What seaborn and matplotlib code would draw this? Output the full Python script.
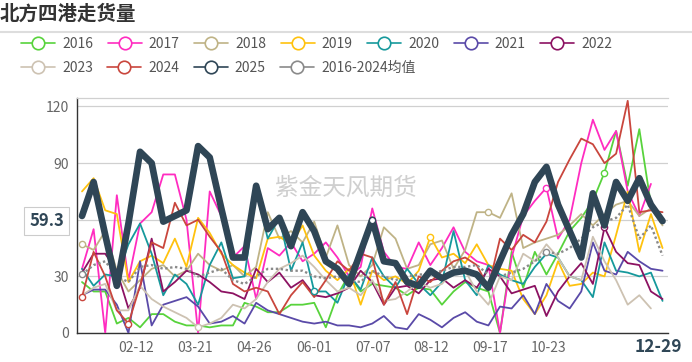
import numpy as np
import pandas as pd
import seaborn as sns
import matplotlib.pyplot as plt
import matplotlib.transforms as mtransforms
from matplotlib.lines import Line2D

# weekly values, index 0 .. 50 (last point = 12-29)
v2016 = [27, 22, 22, 5, 8, 3, 10, 10, 6, 4,
         4, 3, 4, 4, 16, 14, 11, 11, 15, 15,
         16, 3, 20, 31, 22, 26, 25, 24, 20, 24,
         23, 15, 22, 27, 24, 22, 0, 43, 24, 43,
         31, 42, 54, 61, 70, 85, 107, 78, 108, 68,
         None]
v2017 = [34, 55, 0, 73, 28, 58, 64, 84, 84, 60,
         0, 75, 62, 40, 46, 18, 45, 41, 48, 38,
         42, 48, 40, 30, 35, 66, 43, 35, 34, 48,
         36, 45, 56, 43, 38, 36, 0, 40, 62, 70,
         77, 50, 60, 90, 113, 97, 107, 75, 62, 79,
         None]
v2018 = [47, 44, 54, 33, 22, 28, 34, 36, 30, 33,
         42, 36, 33, 36, 30, 35, 64, 50, 54, 48,
         59, 40, 57, 36, 30, 36, 56, 50, 34, 36,
         47, 49, 34, 44, 64, 64, 61, 74, 45, 48,
         50, 52, 57, 63, 57, 63, 68, 70, 62, 66,
         57]
v2019 = [75, 82, 65, 63, 27, 38, 41, 37, 50, 35,
         61, 53, 42, 36, 32, 29, 50, 51, 47, 57,
         41, 33, 28, 34, 15, 33, 28, 30, 26, 33,
         51, 40, 42, 37, 47, 36, 34, 33, 18, 10,
         20, 38, 25, 26, 32, 30, 52, 75, 43, 63,
         45]
v2020 = [34, 25, 31, 30, 47, 58, 42, 20, 31, 26,
         15, 36, 48, 29, 30, 75, 50, 61, 33, 48,
         22, 22, 16, 31, 23, 40, 30, 24, 34, 26,
         20, 27, 54, 28, 20, 36, 31, 28, 26, 35,
         42, 40, 30, 28, 19, 48, 33, 32, 30, 32,
         17]
v2021 = [20, 23, 23, 15, 0, 38, 4, 15, 17, 19,
         14, 5, 6, 9, 5, 16, 12, 10, 8, 6,
         5, 6, 4, 4, 3, 5, 9, 3, 2, 10,
         7, 3, 8, 11, 6, 4, 14, 13, 20, 10,
         26, 17, 13, 22, 48, 33, 31, 43, 38, 34,
         33]
v2022 = [32, 42, 42, 33, 13, 24, 50, 22, 27, 33,
         31, 27, 22, 21, 18, 34, 27, 32, 24, 28,
         20, 19, 21, 24, 33, 27, 15, 24, 25, 21,
         28, 29, 24, 28, 24, 34, 30, 21, 23, 25,
         9, 22, 30, 37, 26, 56, 43, 37, 36, 22,
         18]
v2023 = [20, 24, 26, 12, 12, 25, 18, 14, 11, 8,
         3, 5, 8, 15, 13, 18, 27, 34, 37, 41,
         35, 28, 22, 24, 20, 28, 17, 18, 22, 27,
         24, 26, 33, 33, 22, 15, 30, 28, 42, 38,
         47, 40, 30, 28, 51, 38, 28, 15, 20, 13,
         None]
v2024 = [19, 43, 30, 12, 5, 25, 48, 45, 69, 57,
         60, 51, 43, 26, 22, 24, 22, 10, 20, 27,
         19, 28, 38, 33, 42, 40, 15, 27, 10, 30,
         27, 33, 38, 40, 36, 24, 50, 44, 52, 48,
         59, 80, 92, 103, 100, 90, 95, 123, 64, 65,
         64]
v2025 = [62, 80, 52, 25, 58, 96, 90, 59, 62, 65,
         99, 93, 66, 40, 40, 78, 55, 61, 46, 64,
         54, 38, 34, 26, 43, 60, 38, 37, 27, 25,
         33, 29, 32, 33, 31, 24, 38, 52, 63, 80,
         88, 68, 54, 40, 74, 57, 80, 70, 82, 68,
         59.3]
avg_2016_2024 = [31, 36, 38, 30, 27, 35, 36, 34, 35, 34,
                 30, 32, 34, 28, 26, 30, 34, 34, 33, 33,
                 30, 29, 30, 28, 27, 33, 30, 28, 30, 31,
                 31, 33, 35, 35, 36, 31, 30, 32, 34, 38,
                 43, 42, 45, 50, 56, 59, 61, 68, 50, 57,
                 41]

series_names = ['2016', '2017', '2018', '2019', '2020', '2021', '2022',
                '2023', '2024', '2025', '2016-2024均值']
series_values = [v2016, v2017, v2018, v2019, v2020, v2021, v2022,
                 v2023, v2024, v2025, avg_2016_2024]
colors = ['#58d33c', '#ff2cc0', '#bfb386', '#ffc20e', '#16999c', '#5a4aa8',
          '#8c1262', '#cdc2b2', '#c9463d', '#2f4656', '#8a8a8a']

y_ticks = [0, 30, 60, 90, 120]
tick_labels = ['02-12', '03-21', '04-26', '06-01', '07-07', '08-12', '09-17', '10-23']
tick_pos = [4.65, 9.75, 14.85, 19.95, 25.05, 30.1, 35.15, 40.2]

# points where the chart shows a hollow marker (series name, week index)
marker_spots = [('2018', 0), ('2024', 0), ('2016-2024均值', 0), ('2024', 4),
                ('2023', 10), ('2020', 20), ('2025', 25), ('2019', 30),
                ('2018', 35), ('2017', 40), ('2016-2024均值', 40),
                ('2016', 45), ('2022', 45), ('2016-2024均值', 45)]

sns.set_style('white')
plt.rcParams['font.family'] = ['Noto Sans CJK SC', 'DejaVu Sans']

fig = plt.figure(figsize=(6.92, 3.62), dpi=100)
ax = fig.add_axes([77 / 692, 29 / 362, 591 / 692, 235 / 362])

weeks = np.arange(51)
for name, vals, c in zip(series_names, series_values, colors):
    df = pd.DataFrame({'week': weeks, 'value': pd.array(vals, dtype='Float64').astype(float)})
    if name == '2025':
        sns.lineplot(data=df, x='week', y='value', color=c, lw=4.8, ax=ax,
                     zorder=5, solid_joinstyle='round', solid_capstyle='round')
    elif name.startswith('2016-'):
        sns.lineplot(data=df, x='week', y='value', color=c, lw=1.7, ax=ax,
                     zorder=4, linestyle=(0, (1, 1.1)))
    else:
        sns.lineplot(data=df, x='week', y='value', color=c, lw=1.3, ax=ax, zorder=3)

lookup = dict(zip(series_names, zip(series_values, colors)))
for name, i in marker_spots:
    vals, c = lookup[name]
    ax.plot(i, vals[i], 'o', ms=4.5, mfc='white', mec=c, mew=1.0,
            zorder=6 if name == '2025' else 4.5)

ax.set_xlim(-0.43, 50.47)
ax.set_ylim(0, 124.5)
ax.set_yticks(y_ticks)
# the 60 label sits under the axis-pointer box
ax.set_yticklabels([str(t) if t != 60 else '' for t in y_ticks])
ax.set_xticks(tick_pos)
ax.set_xticklabels(tick_labels)
ax.set_xlabel('')
ax.set_ylabel('')
ax.yaxis.grid(True, color='#d0d0d0', lw=0.9)
ax.set_axisbelow(True)
ax.tick_params(axis='both', length=4, width=0.9, color='#333333',
               labelcolor='#666666', labelsize=10, pad=2)
for side in ['left', 'bottom']:
    ax.spines[side].set_color('#333333')
    ax.spines[side].set_linewidth(1.0)
ax.spines['top'].set_color('#d0d0d0')
ax.spines['top'].set_linewidth(0.9)
ax.spines['right'].set_visible(False)

# watermark
ax.text(0.455, 0.615, '紫金天风期货', transform=ax.transAxes, fontsize=17,
        color='#cfcfcf', ha='center', va='center', zorder=1)

# axis pointer labels
trans = mtransforms.blended_transform_factory(ax.transAxes, ax.transData)
ax.text(-0.022, 59.3, '59.3', transform=trans, ha='right', va='center',
        fontsize=12, fontweight='bold', color='#2f4656', clip_on=False, zorder=10,
        bbox=dict(boxstyle='square,pad=0.3', fc='white', ec='#cccccc', lw=0.8))
fig.text(658 / 692, 1 - 347 / 362, '12-29', ha='center', va='center',
         fontsize=12.5, fontweight='bold', color='#2f4656')

# title and separator
fig.text(0.0, 1 - 14 / 362, '北方四港走货量', fontsize=14, fontweight='bold',
         color='#333333', ha='left', va='center')
fig.add_artist(Line2D([0, 1], [1 - 32 / 362] * 2, transform=fig.transFigure,
                      color='#dddddd', lw=1.5))

# legend in two rows
handles = [Line2D([], [], color=c, lw=1.2, marker='o', ms=9, mfc='white',
                  mec=c, mew=1.2) for c in colors]
common = dict(frameon=False, fontsize=10, handlelength=2.45, handletextpad=0.5,
              columnspacing=1.05, borderpad=0, borderaxespad=0, labelcolor='#555555',
              loc='center left', numpoints=1)
fig.legend(handles[:7], series_names[:7], ncol=7,
           bbox_to_anchor=(21 / 692, 1 - 44 / 362), **common)
fig.legend(handles[7:], series_names[7:], ncol=4,
           bbox_to_anchor=(21 / 692, 1 - 68 / 362), **common)

fig.savefig('out.png', dpi=100)
